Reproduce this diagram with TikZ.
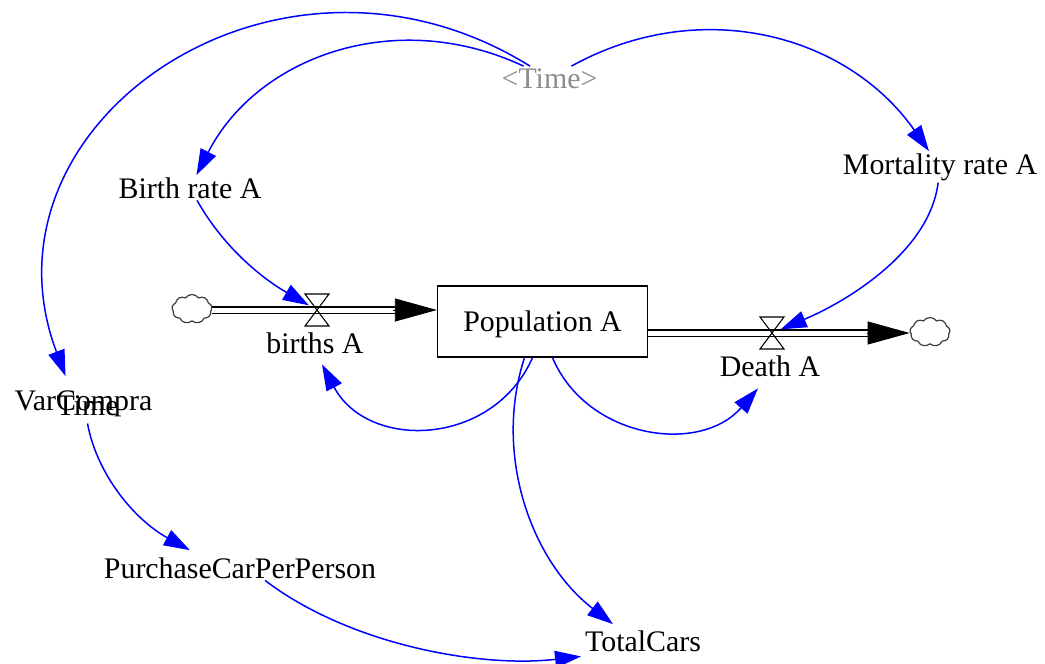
\documentclass[tikz,border=0pt]{standalone}
\usepackage{fontspec}
\setmainfont{Liberation Serif}
\usetikzlibrary{arrows.meta, calc, shapes.symbols}

\begin{document}
\begin{tikzpicture}[x=0.02cm,y=-0.02cm,font=\fontsize{17}{20}\selectfont,
    var/.style={inner sep=1pt, anchor=base},
    link/.style={blue, line width=0.85pt, -{Triangle[length=0.52cm,width=0.34cm]}},
    pipe/.style={double, double distance=0.1cm, line width=0.9pt},
    flowhead/.style={line width=0.5pt, -{Triangle[length=0.84cm,width=0.46cm]}},
    puff/.style={cloud, cloud puffs=9, cloud puff arc=110, draw=black!75, line width=0.7pt,
                 minimum width=0.8cm, minimum height=0.58cm, inner sep=0pt},
    valve/.style={circle, inner sep=0pt, minimum size=0.36cm}]
    \useasboundingbox (0,0) rectangle (1045,663);
    % stock, clouds and flows
    \node[draw, line width=0.8pt, minimum width=4.2cm, minimum height=1.42cm, text depth=0.5pt] (pop) at (542.5,321.5) {Population A};
    \node[puff] (src) at (192,309) {};
    \node[puff] (snk) at (930,332) {};
    \node[valve] (bv) at (317,310) {};
    \node[valve] (dv) at (772,333) {};
    \draw[pipe, shorten >=0.84cm] (src.east |- bv) -- (pop.west |- bv);
    \draw[flowhead] ($(pop.west |- bv)+(-44,0)$) -- (pop.west |- bv);
    \draw[pipe, shorten >=0.82cm] (pop.east |- dv) -- (snk.west |- dv);
    \draw[flowhead] ($(snk.west |- dv)+(-43,0)$) -- (snk.west |- dv);
    \foreach \vname in {bv,dv}
      \draw[line width=0.6pt] (\vname) ++(-12,-16) -- ++(24,0) -- ++(-24,32) -- ++(24,0) -- cycle;
    % variables
    \node[var, text=black!45] (time) at (549.5,88) {<Time>};
    \node[var] (birth) at (190,198) {Birth rate A};
    \node[var] (mort) at (940,174) {Mortality rate A};
    \node[var] (blab) at (315,353) {births A};
    \node[var] (dlab) at (770,376) {Death A};
    \node[var] (varc) at (83.5,410) {VarCompra};
    \node[var] (timeb) at (87.5,415) {Time};
    \node[var] (buy) at (240,578) {PurchaseCarPerPerson};
    \node[var] (cars) at (643,651) {TotalCars};
    % links
    \draw[link] (time) .. controls (395,6) and (257,57) .. (birth);
    \draw[link] (time) .. controls (279,-90) and (-30,122) .. ($(varc.north west)+(53,-12)$);
    \draw[link] (time) .. controls (700,-5) and (847,34) .. (mort);
    \draw[link] (birth) .. controls (225,250) and (265,280) .. (bv);
    \draw[link] (mort) .. controls (930,250) and (850,300) .. (dv);
    \draw[link] ($(pop.south)+(-10,0)$) .. controls (493,447) and (368,451) .. ($(blab.south)+(7,9)$);
    \draw[link] ($(pop.south)+(10,0)$) .. controls (587,439) and (700,455) .. ($(dlab.south)+(-12,10)$);
    \draw[link] ($(pop.south)+(-18,0)$) .. controls (493,454) and (531,561) .. ($(cars.north west)+(30,-4)$);
    \draw[link] ($(varc.south)+(4,5)$) .. controls (97,475) and (135,520) .. ($(buy.north west)+(88,-5)$);
    \draw[link] ($(buy.south)+(25,0)$) .. controls (350,645) and (480,668) .. ($(cars.south west)+(-2,3)$);
\end{tikzpicture}
\end{document}
